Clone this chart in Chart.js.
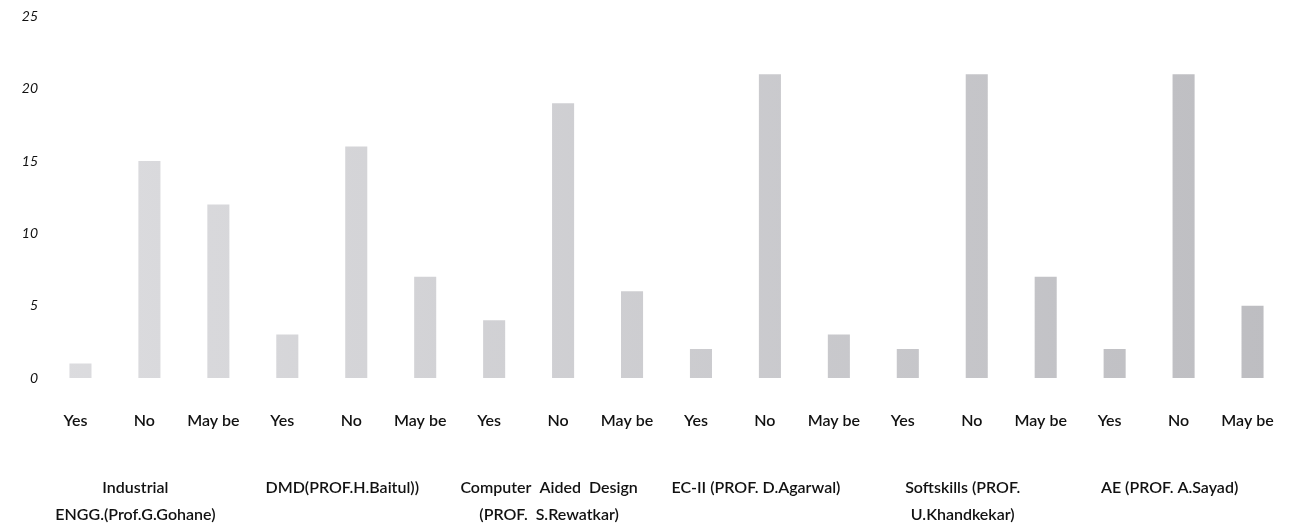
<!DOCTYPE html>
<html>
<head>
<meta charset="utf-8">
<script src="https://cdn.jsdelivr.net/npm/chart.js@4.4.0/dist/chart.umd.min.js"></script>
<style>
  html, body { margin: 0; padding: 0; background: #fff; }
  #wrap { width: 1289px; height: 528px; }
</style>
</head>
<body>
<div id="wrap"><canvas id="c" width="1289" height="528"></canvas></div>
<script>
// Responses shown under each bar
var responses = ['Yes', 'No', 'May be'];

// Subjects (group labels, split into lines as in the picture)
var subjects = [
    ['Industrial', 'ENGG.(Prof.G.Gohane)'],
    ['DMD(PROF.H.Baitul))'],
    ['Computer  Aided  Design', '(PROF.  S.Rewatkar)'],
    ['EC-II (PROF. D.Agarwal)'],
    ['Softskills (PROF.', 'U.Khandkekar)'],
    ['AE (PROF. A.Sayad)']
];

// Counts per subject
var yesValues   = [1, 3, 4, 2, 2, 2];
var noValues    = [15, 16, 19, 21, 21, 21];
var maybeValues = [12, 7, 6, 3, 7, 5];

// Y axis ticks
var yTicks = [0, 5, 10, 15, 20, 25];

(function () {
    'use strict';

    var labels = [];
    var values = [];
    subjects.forEach(function (s, i) {
        labels.push(responses[0], responses[1], responses[2]);
        values.push(yesValues[i], noValues[i], maybeValues[i]);
    });

    // light grey, getting a little darker towards the right like the scan
    var barColor = function (ctx) {
        var chart = ctx.chart;
        var area = chart.chartArea;
        if (!area) { return '#cfcfd3'; }
        var g = chart.ctx.createLinearGradient(area.left, 0, area.right, 0);
        g.addColorStop(0, '#dcdcdf');
        g.addColorStop(1, '#bdbdc1');
        return g;
    };

    var noPad = function (axis) {
        axis.paddingLeft = 0;
        axis.paddingRight = 0;
    };

    new Chart(document.getElementById('c'), {
        type: 'bar',
        data: {
            labels: labels,
            datasets: [{
                data: values,
                backgroundColor: barColor,
                borderWidth: 0,
                barPercentage: 0.32,
                categoryPercentage: 1
            }]
        },
        options: {
            responsive: false,
            animation: false,
            layout: { padding: { top: 14, right: 2, left: 0, bottom: 0 } },
            plugins: {
                legend: { display: false },
                tooltip: { enabled: false }
            },
            scales: {
                x: {
                    grid: { display: false, drawTicks: false, tickLength: 0 },
                    border: { display: false },
                    ticks: {
                        color: '#111',
                        font: { family: 'Lato', size: 16, weight: '600' },
                        padding: 33,
                        labelOffset: -5,
                        maxRotation: 0,
                        autoSkip: false
                    },
                    afterFit: function (axis) { axis.height = 60; noPad(axis); }
                },
                x2: {
                    type: 'category',
                    labels: subjects,
                    position: 'bottom',
                    offset: true,
                    grid: { display: false, drawTicks: false, tickLength: 0 },
                    border: { display: false },
                    ticks: {
                        color: '#111',
                        font: { family: 'Lato', size: 16, weight: '600', lineHeight: 1.65 },
                        padding: 37,
                        labelOffset: -14,
                        maxRotation: 0,
                        autoSkip: false
                    },
                    afterFit: function (axis) { axis.height = 90; noPad(axis); }
                },
                y: {
                    min: 0,
                    max: 25,
                    afterBuildTicks: function (axis) {
                        axis.ticks = yTicks.map(function (v) { return { value: v }; });
                    },
                    grid: { display: false, drawTicks: false, tickLength: 0 },
                    border: { display: false },
                    ticks: {
                        color: '#111',
                        font: { family: 'Lato', size: 14, style: 'italic' },
                        padding: 8
                    },
                    afterFit: function (axis) { axis.width = 46; }
                }
            }
        }
    });
})();
</script>
</body>
</html>
